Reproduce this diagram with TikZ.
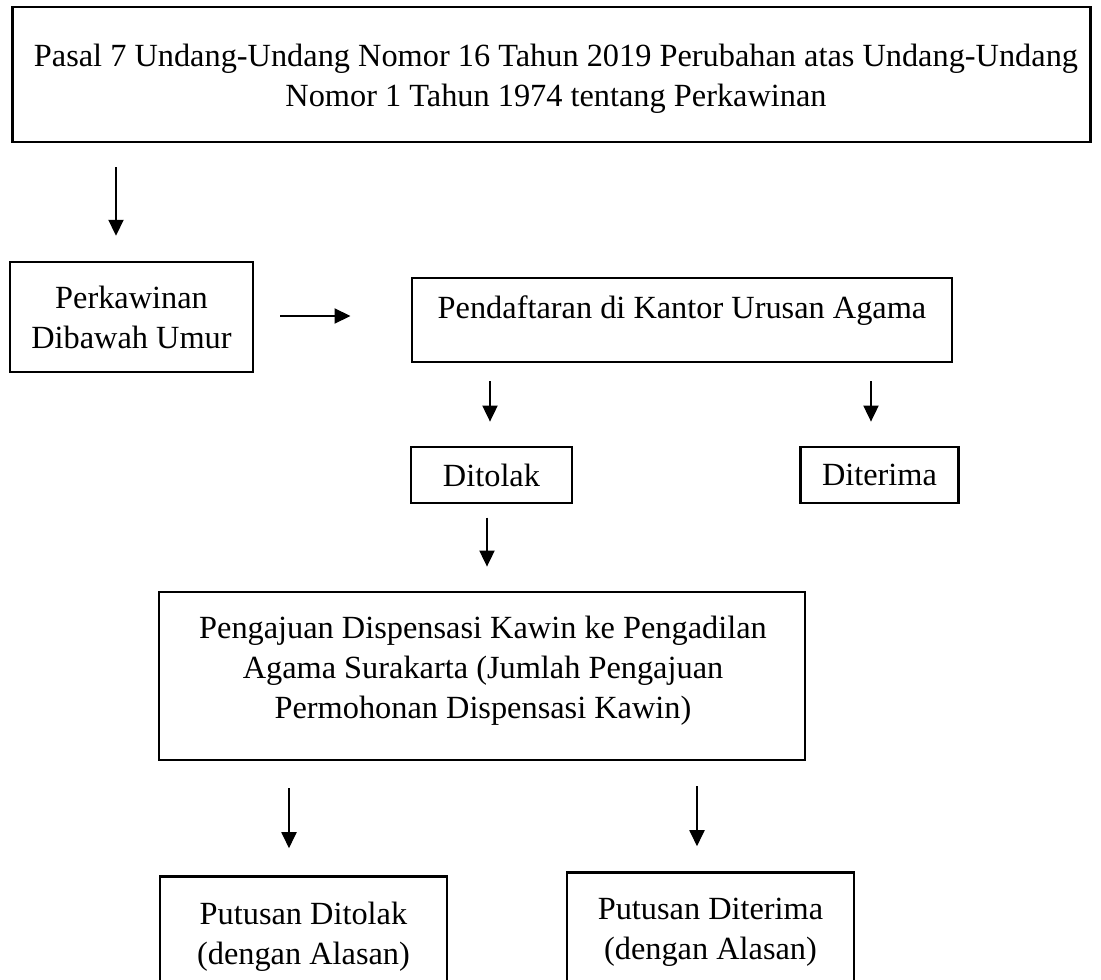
\documentclass[tikz,border=0pt]{standalone}
\usepackage{fontspec}
\setmainfont{Liberation Serif}
\usepackage{tikz}
\usetikzlibrary{positioning,arrows.meta}

\tikzset{
    box/.style={draw, line width=2pt, inner sep=0pt},
    txt/.style={align=center, inner sep=0pt},
    arr/.style={-{Triangle[width=0.38cm,length=0.4cm]}, line width=0.9pt},
    every node/.style={font=\fontsize{23}{28.45}\selectfont}
}

\begin{document}
\begin{tikzpicture}[x=0.025cm, y=-0.025cm]

\useasboundingbox (0,0) rectangle (1101,980);
\clip (0,0) rectangle (1101,980);

% boxes
\node[box, minimum width=26.925cm, minimum height=3.375cm] (uu) at (551.5,74.5) {};
\node[txt] (uutxt) at (556,79) {Pasal 7 Undang-Undang Nomor 16 Tahun 2019 Perubahan atas Undang-Undang\\Nomor 1 Tahun 1974 tentang Perkawinan};

\node[box, txt, minimum width=6.075cm, minimum height=2.75cm] (perk) at (131.5,317) {Perkawinan\\Dibawah Umur};

\node[box, minimum width=13.5cm, minimum height=2.1cm] (pend) at (682,320) {};
\node[txt] (pendtxt) at (682,311) {Pendaftaran di Kantor Urusan Agama};

\node[box, minimum width=4.025cm, minimum height=1.4cm] (tolak) at (491.5,475) {Ditolak};
\node[box, minimum width=3.93cm, minimum height=1.4cm] (terima) at (879.5,475) {Diterima};

\node[box, minimum width=16.15cm, minimum height=4.2cm] (aju) at (482,676) {};
\node[txt] (ajutxt) at (483,671) {Pengajuan Dispensasi Kawin ke Pengadilan\\Agama Surakarta (Jumlah Pengajuan\\Permohonan Dispensasi Kawin)};

\node[box, minimum width=7.175cm, minimum height=3.5cm, anchor=north] (putol) at (303.5,875) {};
\node[txt] (putoltxt) at (303.5,937) {Putusan Ditolak\\(dengan Alasan)};

\node[box, minimum width=7.175cm, minimum height=3.5cm, anchor=north] (puter) at (710.5,871) {};
\node[txt] (putertxt) at (710.5,932) {Putusan Diterima\\(dengan Alasan)};

% arrows
\draw[arr, shorten <=0.6cm, shorten >=0.62cm] (116,0 |- uu.south) -- (116,0 |- perk.north);
\draw[arr, shorten <=0.65cm, shorten >=1.5cm] (0,316 -| perk.east) -- (0,316 -| pend.west);
\draw[arr, shorten <=0.45cm, shorten >=0.6cm] (490,0 |- pend.south) -- (490,0 |- tolak.north);
\draw[arr, shorten <=0.45cm, shorten >=0.6cm] (871,0 |- pend.south) -- (871,0 |- terima.north);
\draw[arr, shorten <=0.33cm, shorten >=0.6cm] (487,0 |- tolak.south) -- (487,0 |- aju.north);
\draw[arr, shorten <=0.67cm, shorten >=0.67cm] (289,0 |- aju.south) -- (289,0 |- putol.north);
\draw[arr, shorten <=0.62cm, shorten >=0.62cm] (697,0 |- aju.south) -- (697,0 |- puter.north);

\end{tikzpicture}
\end{document}
